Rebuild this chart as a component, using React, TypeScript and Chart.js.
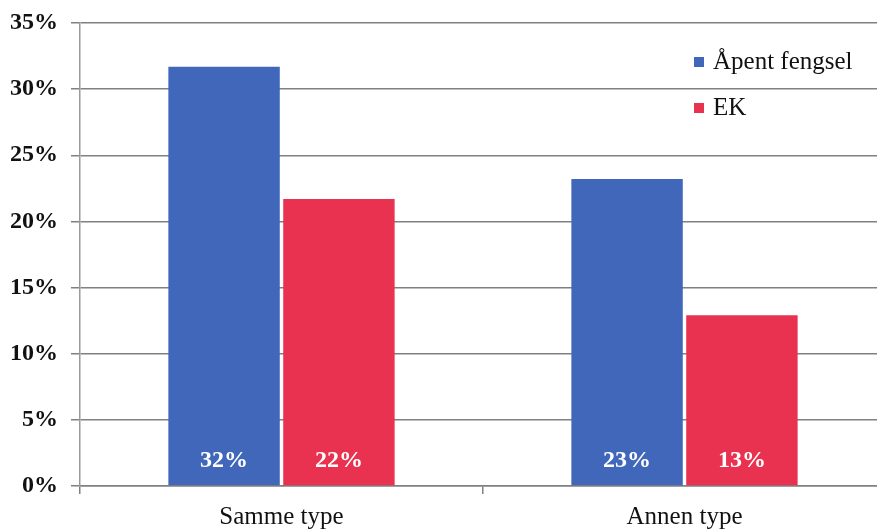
import React, { useEffect, useRef } from "react";
import { Chart, registerables } from "chart.js";

Chart.register(...registerables);

const categories = ["Samme type", "Annen type"];
const seriesNames = ["Åpent fengsel", "EK"];
const apentFengsel = [31.7, 23.2];
const ek = [21.7, 12.9];
const valueLabels = [["32%", "23%"], ["22%", "13%"]];
const yTicks = [0, 5, 10, 15, 20, 25, 30, 35];
const colors = ["#4067b9", "#e8324f"];

const SERIF = "'Liberation Serif', 'Times New Roman', serif";

const barLabelPlugin = {
  id: "barLabels",
  afterDatasetsDraw(chart: any) {
    const ctx = chart.ctx;
    ctx.save();
    ctx.fillStyle = "#ffffff";
    ctx.font = `bold 24px ${SERIF}`;
    ctx.textAlign = "center";
    ctx.textBaseline = "middle";
    chart.data.datasets.forEach((ds: any, di: number) => {
      const meta = chart.getDatasetMeta(di);
      meta.data.forEach((bar: any, i: number) => {
        ctx.fillText(valueLabels[di][i], bar.x, bar.base - 24);
      });
    });
    ctx.restore();
  },
};

const legendPlugin = {
  id: "customLegend",
  afterDraw(chart: any) {
    const ctx = chart.ctx;
    const area = chart.chartArea;
    const x0 = area.left + 614;
    const y0 = area.top + 39;
    ctx.save();
    ctx.font = `25px ${SERIF}`;
    ctx.textBaseline = "middle";
    ctx.textAlign = "left";
    seriesNames.forEach((name, i) => {
      const y = y0 + i * 46;
      ctx.fillStyle = colors[i];
      ctx.fillRect(x0, y - 5, 10, 10);
      ctx.fillStyle = "#111111";
      ctx.fillText(name, x0 + 19, y);
    });
    ctx.restore();
  },
};

export default function App() {
  const ref = useRef<HTMLCanvasElement | null>(null);
  useEffect(() => {
    if (!ref.current) return;
    const chart = new Chart(ref.current, {
      type: "bar",
      data: {
        labels: categories,
        datasets: [
          { label: seriesNames[0], data: apentFengsel, backgroundColor: colors[0] },
          { label: seriesNames[1], data: ek, backgroundColor: colors[1] },
        ],
      },
      options: {
        animation: false,
        responsive: true,
        maintainAspectRatio: false,
        layout: { padding: { top: 23, right: 0, left: 0, bottom: 0 } },
        datasets: { bar: { categoryPercentage: 0.57, barPercentage: 0.97 } },
        plugins: { legend: { display: false }, tooltip: { enabled: false } },
        scales: {
          x: {
            afterFit: (s: any) => { s.height = 43; },
            grid: { drawOnChartArea: false, tickLength: 8, color: "#808080", lineWidth: 1.5 },
            border: { display: true, color: "#808080", width: 1.5 },
            ticks: { color: "#111111", padding: 8, font: { family: SERIF, size: 25 } },
          },
          y: {
            min: 0,
            max: 35,
            afterFit: (s: any) => {
              s.width = 80;
              s.paddingTop = 0;
              s.paddingBottom = 0;
            },
            afterBuildTicks: (s: any) => { s.ticks = yTicks.map((v) => ({ value: v })); },
            grid: { color: "#808080", lineWidth: 1.5, tickLength: 9 },
            border: { display: true, color: "#9a9a9a", width: 1.5 },
            ticks: {
              color: "#111111",
              padding: 13,
              font: { family: SERIF, size: 24, weight: "bold" },
              callback: (v: any) => `${v}%`,
            },
          },
        },
      },
      plugins: [barLabelPlugin, legendPlugin],
    });
    return () => chart.destroy();
  }, []);
  return (
    <div style={{ position: "fixed", left: 0, top: 0, width: 886, height: 529, background: "#ffffff" }}>
      <canvas ref={ref} />
    </div>
  );
}
